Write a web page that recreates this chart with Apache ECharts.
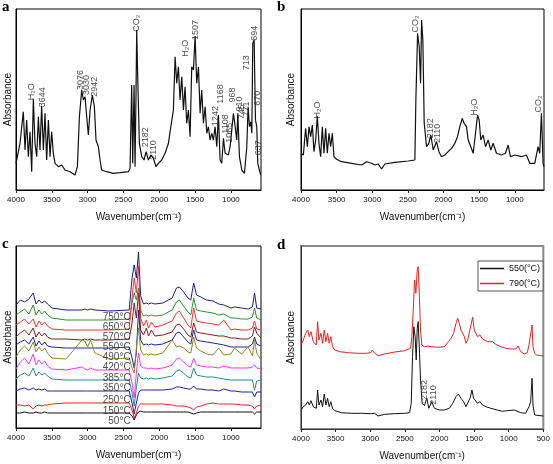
<!DOCTYPE html>
<html><head><meta charset="utf-8">
<script src="https://cdn.jsdelivr.net/npm/echarts@6/dist/echarts.min.js"></script>
<style>html,body{margin:0;padding:0;background:#fff}#c{width:553px;height:464px}</style>
</head><body><div id="c"></div>
<script>
// ---------- Panel a ----------
const aWn = [4000,3944,3898,3874,3851,3828,3804,3781,3758,3735,3711,3688,3665,3642,3618,3595,3572,3548,3525,3502,3479,3455,3409,3362,3316,3246,3176,3143,3115,3083,3060,3036,3013,2990,2966,2934,2906,2883,2850,2827,2804,2734,2641,2548,2431,2408,2385,2371,2352,2338,2324,2315,2301,2278,2245,2212,2184,2152,2119,2082,2045,2012,1966,1919,1872,1849,1826,1803,1779,1756,1733,1710,1686,1663,1640,1617,1593,1570,1547,1523,1500,1477,1453,1430,1407,1384,1360,1337,1314,1291,1267,1244,1221,1197,1174,1151,1128,1104,1081,1058,1035,1011,965,941,918,904,881,848,811,778,760,741,722,708,695,676,657,639,625,601,585];
const aVal = [26.7,46.7,78.3,40,70,33.3,58.3,18.3,91.3,46.7,33.3,73.3,40,84,40,76.7,30,70,33.3,58.3,36.7,26.7,23.3,25,20,18.3,15,23.3,73.3,100,90,93.3,73.3,55,80,95,83.3,50,43.3,30,20,18.3,16.7,17.3,18.3,21.7,105,26.7,105,23.3,100,160,113.3,46.7,33.3,30,38.3,30,35,31.7,23.3,26.7,30,36.7,46.7,58.3,56.7,80,133.3,106.7,123.3,90,113.3,80,103.3,66.7,80,53.3,123.3,120,154,106.7,123.3,76.7,100,66.7,83.3,56.7,63.3,50,56.7,50,63.3,43.3,75,30,26.7,51.7,36.7,36.7,35,43.3,76.7,63.3,50,76.7,33.3,20,16.7,43.3,83.3,63.3,68.3,56.7,146.7,150,70,63.3,26.7,28.3,15];
const aLabText = ['H₂O','3644','3076','3030','2942','CO₂','2182','2110','H₂O','1507','1242','1168','1108','1065','968','910','745','771','713','694','670','637'];
const aLabWn   = [3781,3628,3106,3022,2906,2315,2189,2082,1630,1500,1221,1151,1076,1020,979,881,848,788,778,676,625,615];
const aLabVal  = [98.3,92.7,110,105,103.3,166.7,52.7,40,141.7,160,74,96,66,57.3,95,86,78.3,81,127.3,156.7,91.7,42.3];

// ---------- Panel b ----------
const bWn = [4000,3967,3935,3911,3888,3864,3841,3818,3794,3771,3748,3724,3701,3678,3654,3631,3607,3584,3561,3537,3500,3430,3290,3150,3079,3009,2963,2916,2869,2822,2682,2495,2402,2388,2364,2341,2322,2308,2290,2271,2238,2206,2178,2145,2098,2065,2028,1981,1935,1888,1841,1804,1771,1738,1710,1678,1654,1617,1584,1551,1523,1500,1477,1444,1411,1374,1336,1304,1257,1187,1131,1093,1061,1000,907,837,790,720,673,650,626,603,592];
const bVal = [36.7,35,61.7,43.3,63.3,53.3,65,38.3,50,74,46.7,33.3,63.3,36.7,61.7,36.7,56.7,43.3,56.7,33.3,30.7,28.3,26.7,25,28.3,26.7,25,26,21,26,27.7,29,30,90,156.7,143.3,106.7,170,150,66.7,43.3,46.7,55,40,48.3,38.3,33.3,35,38.3,41.7,46.7,53.3,63.3,71.7,66.7,63.3,50,43.3,36.7,56.7,75,70,50,55,43.3,50,40,46.7,36.7,35,36.7,45,33.3,35,33.3,35,26.7,26.7,43.3,36.7,76.7,26.7,23.3];
const bLabText = ['H₂O','CO₂','2182','2110','H₂O','CO₂'];
const bLabWn   = [3766,2393,2182,2084,1570,673];
const bLabVal  = [80,166,61.7,56.7,82.7,86];

// ---------- Panel c ----------
const cWn = [4000,3940,3880,3820,3760,3720,3680,3640,3600,3560,3500,3300,3080,3040,3000,2960,2900,2700,2420,2380,2350,2320,2290,2260,2220,2180,2150,2110,2060,1950,1820,1760,1720,1660,1600,1560,1520,1480,1420,1340,1250,1170,1100,1000,950,850,760,700,670,640,580];
const c750 = [123,128,126,129,135,124,128,125,127,124,120,118,118,119,118,119,118,117,118,150,163,150,176,132,124,125,124,125,124,125,130,140,141,136,130,128,145,133,131,128,127,124,123,120,121,120,119,121,135,120,119];
const c650 = [113,116,119,114,123,113,118,114,117,113,110,108,108,108,108,108,108,108,109,125,135,128,140,118,112,113,112,113,112,113,118,126,128,122,116,113,130,118,117,116,115,113,114,110,110,109,109,111,120,110,108];
const c570 = [103,106,109,104,109,101,107,103,106,102,99,98,98,98,98,98,98,98,99,130,150,135,162,110,102,108,100,106,101,103,107,115,117,110,103,100,120,107,106,105,104,103,108,98,99,98,98,100,107,99,98];
const c550 = [91,95,98,93,100,91,96,92,95,91,89,89,88,89,88,89,88,88,89,105,125,110,135,98,93,100,92,98,92,93,96,103,104,99,93,91,105,96,95,94,93,92,92,90,90,89,89,92,101,95,90];
const c490 = [83,86,88,84,91,82,87,83,86,82,81,80,80,80,80,80,80,80,81,70,60,75,118,88,83,84,83,84,83,84,88,95,96,91,86,84,98,88,87,86,85,84,83,81,81,81,81,84,91,84,82];
const c420 = [71,78,82,77,86,76,81,77,80,75,70,69,88,87,81,88,75,69,70,60,55,80,100,78,73,74,73,74,73,75,88,81,82,80,76,75,91,80,77,74,73,80,73,74,80,74,81,72,88,75,68];
const c385 = [59,66,70,64,74,63,68,64,67,62,59,58,61,59,58,60,58,58,58,45,30,55,75,62,60,60,59,60,59,60,63,69,70,66,62,61,70,63,62,61,61,60,62,60,60,60,60,61,63,60,59];
const c350 = [49,53,55,52,60,52,56,53,55,52,49,48,48,48,48,48,48,48,48,35,22,40,55,50,49,50,49,50,49,50,52,57,58,55,51,50,60,53,52,51,51,50,49,48,48,48,48,48,38,47,48];
const c250 = [37,39,40,38,40,38,39,38,39,37,37,37,37,37,37,37,37,37,37,25,14,25,35,38,38,38,38,38,38,38,39,41,41,40,39,39,42,39,39,38,38,37,39,37,37,36,36,36,31,36,36];
const c150 = [23,23,22,23,19,22,23,22,23,23,24,25,25,25,25,25,25,25,25,18,10,15,22,24,24,24,24,24,24,24,23,22,22,22,21,20,18,21,22,24,25,24,24,24,24,23,23,22,19,22,23];
const c50  = [15,15,16,15,15,16,15,15,16,15,15,15,15,15,15,15,15,15,15,12,8,13,16,17,16,16,16,16,16,16,16,16,16,16,16,15,14,15,16,16,16,16,16,16,16,16,16,16,14,16,16];
const cNames = ['750°C','650°C','570°C','550°C','490°C','420°C','385°C','350°C','250°C','150°C','50°C'];
const cSeries = [c750,c650,c570,c550,c490,c420,c385,c350,c250,c150,c50];
const cColors = ['#1c1c8c','#2a962a','#ff3030','#8b1a1a','#2020a0','#8c8c28','#ff30ff','#2a8c80','#2020a0','#ff2020','#111111'];
const cLabWn = 2400;
const cLabVal = [111,101,91,81,71,61,50,40,28,17,7];

// ---------- Panel d ----------
const dRedWn = [4000,3966,3933,3904,3880,3856,3823,3799,3779,3760,3741,3712,3688,3664,3640,3616,3593,3569,3545,3511,3439,3319,3175,3056,2993,2969,2936,2888,2792,2648,2504,2418,2399,2380,2360,2341,2321,2308,2293,2274,2255,2217,2169,2121,2025,1929,1871,1833,1795,1761,1737,1713,1689,1665,1641,1617,1593,1569,1545,1521,1497,1474,1450,1416,1387,1354,1306,1234,1186,1114,1090,1042,970,898,865,826,778,731,707,683,663,649,625,596,500];
const dRedVal = [84,89,95.7,99,92.3,97.3,87.3,89,84,107.3,89,95.7,85.7,99,87.3,95.7,85.7,92.3,82.3,79,77.3,76.3,75.7,75.7,76.3,79,75.7,73.3,75,77,78.3,80.7,92.3,117.3,149,135.7,159,162.3,139,99,84,82.3,83,82.3,81.7,82.3,87.3,90.7,95.7,105.7,110.7,105.7,99,97.3,92.3,85.7,89,87.3,104,111.7,99,97.3,92.3,94,90.7,89,87.3,87.3,84.7,82.3,83,80.7,80,80,83,77.3,75,76.3,84,82.3,104,82.3,75.7,74,73];
const dBlkWn = [4000,3966,3933,3904,3880,3856,3823,3799,3779,3760,3741,3712,3688,3664,3640,3616,3593,3569,3545,3511,3415,3271,3127,2984,2936,2888,2792,2648,2504,2432,2408,2389,2370,2351,2336,2321,2308,2288,2274,2250,2217,2183,2154,2111,2073,2001,1929,1857,1809,1761,1727,1689,1651,1617,1593,1559,1531,1507,1483,1450,1416,1378,1330,1258,1162,1090,1018,922,826,754,707,683,663,649,625,500];
const dBlkVal = [19,22.3,24,27.3,24,28.3,22.3,24,20.7,39,24,29,22.3,35,24,30.7,22.3,27.3,20.7,18.3,16.3,15.7,15.7,15.3,15.7,13,14.7,15.3,15.7,16.3,25.7,72.3,102.3,92.3,69,100.7,107.3,75.7,49,25.7,23.3,30.7,20.7,27.3,20.7,19,19,20.7,25.7,32.3,35,30.7,27.3,22.3,24,30.7,39,30.7,32.3,25.7,27.3,24,22.3,20.7,19,17.7,18.3,19,16.3,15.7,22.3,27.3,50.7,24,14,13];
const dNames = ['550(°C)','790(°C)'];
const dLabText = ['2182','2110'];
const dLabWn = [2217,2092];
const dLabVal = [39,34];

// ---------- Axes ticks ----------
const ticksAC = [4000,3500,3000,2500,2000,1500,1000];
const ticksD = [4000,3500,3000,2500,2000,1500,1000,500];

// ---------- Build ----------
const FONT = '"Liberation Sans", Arial, sans-serif';
const zip = (xs, ys) => xs.map((x, i) => [x, ys[i]]);

function mkX(i, min, ticks, lineColor) {
  return {
    type: 'value', gridIndex: i, inverse: true, min: min, max: 4000,
    axisLine: { show: true, onZero: false, lineStyle: { color: lineColor, width: 1 } },
    axisTick: { show: true, inside: false, length: 3, customValues: ticks, lineStyle: { color: '#222' } },
    axisLabel: { customValues: ticks, fontSize: 8, color: '#111', margin: 6, fontFamily: FONT,
      formatter: v => String(v) },
    splitLine: { show: false },
    name: 'Wavenumber(cm⁻¹)', nameLocation: 'middle', nameGap: 22,
    nameTextStyle: { fontSize: 10, color: '#111', fontFamily: FONT }
  };
}
function mkY(i, max, gap, lineColor) {
  return {
    type: 'value', gridIndex: i, min: 0, max: max,
    axisLine: { show: true, lineStyle: { color: lineColor, width: 1 } },
    axisTick: { show: false }, axisLabel: { show: false }, splitLine: { show: false },
    name: 'Absorbance', nameLocation: 'middle', nameGap: gap, nameRotate: 90,
    nameTextStyle: { fontSize: 10, color: '#111', fontFamily: FONT }
  };
}
function lineSeries(i, name, data, color, w) {
  return { type: 'line', name: name, xAxisIndex: i, yAxisIndex: i, data: data, symbol: 'none',
    lineStyle: { color: color, width: w || 1 }, itemStyle: { color: color }, silent: true, z: 2 };
}
function labelSeries(i, texts, xs, ys, rotate, pos, size) {
  return { type: 'scatter', xAxisIndex: i, yAxisIndex: i, symbolSize: 0, silent: true, z: 5,
    data: texts.map((t, k) => ({ name: t, value: [xs[k], ys[k]] })),
    label: { show: true, formatter: '{b}', rotate: rotate, position: pos, distance: 0,
      fontSize: size, color: '#222', fontFamily: FONT } };
}

const series = [];
series.push(lineSeries(0, 'a', zip(aWn, aVal), '#111', 1.2));
series.push(labelSeries(0, aLabText, aLabWn, aLabVal, 90, 'inside', 9));
series.push(lineSeries(1, 'b', zip(bWn, bVal), '#111', 1.2));
series.push(labelSeries(1, bLabText, bLabWn, bLabVal, 90, 'inside', 9));
cSeries.forEach((vals, k) => series.push(lineSeries(2, cNames[k], zip(cWn, vals), cColors[k], 1)));
series.push(labelSeries(2, cNames, cNames.map(() => cLabWn), cLabVal, 0, 'left', 10));
series.push(lineSeries(3, dNames[0], zip(dBlkWn, dBlkVal), '#111', 1));
series.push(lineSeries(3, dNames[1], zip(dRedWn, dRedVal), '#f02020', 1));
series.push(labelSeries(3, dLabText, dLabWn, dLabVal, 90, 'inside', 9));

const letter = (t, x, y) => ({ type: 'text', left: x, top: y,
  style: { text: t, font: 'bold 15px "Liberation Serif", "Times New Roman", serif', fill: '#000' } });

const option = {
  animation: false,
  backgroundColor: '#fff',
  grid: [
    { left: 16, top: 9, width: 245, height: 181, show: true, borderColor: '#000', borderWidth: 1 },
    { left: 301, top: 9, width: 243, height: 181, show: true, borderColor: '#000', borderWidth: 1 },
    { left: 16, top: 246, width: 245, height: 182, show: true, borderColor: '#000', borderWidth: 1 },
    { left: 301, top: 246, width: 243, height: 183, show: true, borderColor: '#8a8a8a', borderWidth: 2 }
  ],
  xAxis: [mkX(0, 580, ticksAC, '#000'), mkX(1, 590, ticksAC, '#000'), mkX(2, 580, ticksAC, '#000'), mkX(3, 500, ticksD, '#333')],
  yAxis: [mkY(0, 181, 3, '#000'), mkY(1, 181, 5, '#000'), mkY(2, 182, 3, '#000'), mkY(3, 183, 5, '#333')],
  legend: {
    data: dNames.map(n => ({ name: n, icon: 'rect' })),
    left: 478, top: 261, orient: 'vertical', itemWidth: 24, itemHeight: 1.5, itemGap: 6,
    padding: [3, 3, 3, 2], borderColor: '#555', borderWidth: 1, backgroundColor: '#fff',
    textStyle: { fontSize: 9, color: '#111', fontFamily: FONT }
  },
  graphic: [letter('a', 2, 0), letter('b', 277, 0), letter('c', 2, 237), letter('d', 277, 238)],
  series: series
};
const chart = echarts.init(document.getElementById('c'), null, { renderer: 'canvas' });
chart.setOption(option);
</script></body></html>
